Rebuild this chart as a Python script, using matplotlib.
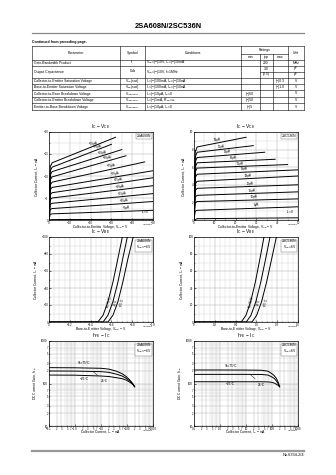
import matplotlib.pyplot as plt
import numpy as np
from matplotlib.ticker import AutoMinorLocator, FixedLocator, FixedFormatter

plt.rcParams["font.family"] = ["Liberation Sans", "DejaVu Sans"]
plt.rcParams["axes.linewidth"] = 0.5

# ---------------- table data ----------------
TABLE_PARAMS = [
    "Gain-Bandwidth Product",
    "Output Capacitance",
    "",
    "Collector-to-Emitter Saturation Voltage",
    "Base-to-Emitter Saturation Voltage",
    "Collector-to-Base Breakdown Voltage",
    "Collector-to-Emitter Breakdown Voltage",
    "Emitter-to-Base Breakdown Voltage",
]
TABLE_SYMBOLS = [
    r"f$\mathregular{_T}$", r"Cob", "",
    r"V$\mathregular{_{CE}}$(sat)", r"V$\mathregular{_{BE}}$(sat)",
    r"V$\mathregular{_{(BR)CBO}}$", r"V$\mathregular{_{(BR)CEO}}$", r"V$\mathregular{_{(BR)EBO}}$",
]
TABLE_CONDITIONS = [
    r"V$\mathregular{_{CE}}$=(−)10V, I$\mathregular{_C}$=(−)10mA",
    r"V$\mathregular{_{CB}}$=(−)10V, f=1MHz",
    "",
    r"I$\mathregular{_C}$=(−)100mA, I$\mathregular{_B}$=(−)10mA",
    r"I$\mathregular{_C}$=(−)100mA, I$\mathregular{_B}$=(−)10mA",
    r"I$\mathregular{_C}$=(−)10µA, I$\mathregular{_E}$=0",
    r"I$\mathregular{_C}$=(−)1mA, R$\mathregular{_{BE}}$=∞",
    r"I$\mathregular{_E}$=(−)10µA, I$\mathregular{_C}$=0",
]
TABLE_MIN = ["", "", "", "", "", "(−)60", "(−)50", "(−)5"]
TABLE_TYP = ["200", "3.0", "(2.5)", "", "", "", "", ""]
TABLE_MAX = ["", "", "", "(−)0.3", "(−)1.0", "", "", ""]
TABLE_UNIT = ["MHz", "pF", "pF", "V", "V", "V", "V", "V"]

# ---------------- IC - VCE ----------------
VCE_A_LABELS = ["−55µA", "−50µA", "−45µA", "−40µA", "−35µA", "−30µA",
                "−25µA", "−20µA", "−15µA", "−10µA", "−5µA"]
VCE_A_KNEE = [-13.0, -12.0, -11.0, -9.8, -8.6, -7.4, -6.2, -5.0, -3.8, -2.6, -1.4]
VCE_A_END_V = [-32, -30, -35, -37, -46, -50, -50, -50, -50, -50, -50]
VCE_A_END_I = [-18.8, -17.2, -16.0, -14.6, -13.2, -11.2, -9.6, -7.8, -6.0, -4.2, -2.2]
VCE_A_ZERO = [0, -0.1, -0.15]

VCE_C_LABELS = ["55µA", "50µA", "45µA", "40µA", "35µA", "30µA",
                "25µA", "20µA", "15µA", "10µA", "5µA"]
VCE_C_KNEE = [8.3, 7.7, 7.1, 6.5, 5.9, 5.2, 4.4, 3.6, 2.8, 2.1, 1.1]
VCE_C_END_V = [25, 28.5, 34, 39, 45, 50, 50, 50, 50, 50, 50]
VCE_C_END_I = [9.4, 8.45, 7.7, 6.9, 6.3, 5.7, 5.0, 4.0, 3.2, 2.4, 1.5]
VCE_C_ZERO = [0, 0.15, 0.25]

# ---------------- IC - VBE ----------------
VBE_A = {
    "75": ([0, -0.47, -0.52, -0.567, -0.615, -0.663, -0.705], [0, 0, -8, -24, -47, -75, -100]),
    "25": ([0, -0.52, -0.567, -0.615, -0.663, -0.71, -0.753], [0, 0, -8, -24, -47, -75, -100]),
    "-25": ([0, -0.567, -0.615, -0.663, -0.71, -0.76, -0.81], [0, 0, -8, -24, -47, -75, -100]),
}
VBE_C = {
    "75": ([0, 0.455, 0.50, 0.545, 0.59, 0.635, 0.673], [0, 0, 8, 24, 47, 75, 100]),
    "25": ([0, 0.503, 0.548, 0.595, 0.642, 0.69, 0.731], [0, 0, 8, 24, 47, 75, 100]),
    "-25": ([0, 0.558, 0.603, 0.65, 0.698, 0.748, 0.792], [0, 0, 8, 24, 47, 75, 100]),
}

# ---------------- hFE - IC ----------------
HFE_A_IC = [0.1, 1, 10, 20, 39, 65, 94, 120, 147, 175, 196]
HFE_A = {
    "75": [236, 234, 228, 218, 195, 170, 145, 126, 110, 95, 84],
    "25": [197, 196, 190, 183, 166, 150, 132, 118, 106, 94, 84],
    "-25": [158, 157, 150, 146, 137, 130, 120, 110, 101, 92, 84],
}
HFE_C_IC = [0.1, 1, 10, 39, 70, 94, 120, 147, 175, 196]
HFE_C = {
    "75": [208, 208, 207, 205, 195, 174, 155, 132, 105, 84],
    "25": [164, 164, 164, 163, 158, 145, 133, 115, 98, 84],
    "-25": [110, 110, 110, 110, 109, 107, 103, 96, 90, 84],
}

DECADE_LABELS_A = ["−0.1", "−1.0", "−10", "−100", "−1000"]
DECADE_LABELS_C = ["0.1", "1.0", "10", "100", "1000"]

TICK_FS = 2.1
LABEL_FS = 2.4
CURVE_LW = 0.7


def style_axes(ax, title, device, cond=None, code=""):
    ax.tick_params(which="both", direction="in", length=1.2, width=0.4,
                   labelsize=TICK_FS, pad=0.4)
    ax.tick_params(which="minor", length=0.6)
    ax.grid(True, which="major", color="#b0b0b0", lw=0.35)
    ax.grid(True, which="minor", color="#d0d0d0", lw=0.3)
    ax.set_axisbelow(True)
    ax.text(0.5, 1.008, title, transform=ax.transAxes, ha="center", va="bottom", fontsize=3.5)
    txt = device if cond is None else device + "\n" + cond
    ax.text(0.985, 0.975, txt, transform=ax.transAxes, ha="right", va="top", fontsize=2.4,
            linespacing=1.0,
            bbox=dict(boxstyle="square,pad=0.25", fc="white", ec="#666666", lw=0.3))
    ax.text(1.0, -0.045, code, transform=ax.transAxes, ha="right", va="top", fontsize=1.6)


def set_labels(ax, xlabel, ylabel):
    ax.set_xlabel(xlabel, fontsize=LABEL_FS)
    ax.set_ylabel(ylabel, fontsize=LABEL_FS, labelpad=1.5)
    ax.xaxis.set_label_coords(0.5, -0.037)


def vce_chart(ax, labels, knee, end_v, end_i, zero, sign, device, xticks, yticks, label_x, code):
    for lab, k, ev, ei, lx in zip(labels, knee, end_v, end_i, label_x):
        xs = [0, sign * 0.6, sign * 1.5, ev]
        ys = [0, k * 0.93, k, ei]
        ax.plot(xs, ys, color="black", lw=CURVE_LW)
        ly = np.interp(abs(lx), np.abs(xs), np.abs(ys)) * sign
        ax.annotate(lab, (lx, ly), xytext=(0, 0.6), textcoords="offset points",
                    fontsize=2.2, ha="center", va="bottom", rotation=6)
    ax.plot([0, sign * 1.5, sign * 50], zero, color="black", lw=CURVE_LW)
    ax.text(0.92, 0.045, r"I$\mathregular{_B}$=0", transform=ax.transAxes, fontsize=2.3,
            ha="center", va="bottom")
    ax.set_xlim(0, xticks[-1])
    ax.set_ylim(0, yticks[-1])
    ax.xaxis.set_major_locator(FixedLocator(xticks))
    ax.yaxis.set_major_locator(FixedLocator(yticks))
    ax.xaxis.set_minor_locator(AutoMinorLocator(2))
    ax.yaxis.set_minor_locator(AutoMinorLocator(2))
    style_axes(ax, r"I$\mathregular{_C}$ − V$\mathregular{_{CE}}$", device, code=code)
    set_labels(ax, r"Collector-to-Emitter Voltage, V$\mathregular{_{CE}}$ − V",
               r"Collector Current, I$\mathregular{_C}$ − mA")


def vbe_chart(ax, curves, sign, device, cond, yticks, code):
    for temp, (vx, iy) in curves.items():
        ax.plot(vx, iy, color="black", lw=CURVE_LW)
    names = {"75": "Ta=75°C", "25": "25°C", "-25": "−25°C"}
    offs = {"75": -0.035, "25": -0.02, "-25": -0.005}
    for temp, (vx, iy) in curves.items():
        ax.text(vx[4] + sign * offs[temp], iy[4] * 0.5, names[temp], fontsize=2.3,
                rotation=76, ha="center", va="center")
    ax.set_xlim(0, sign * 1.0)
    ax.set_ylim(0, yticks[-1])
    ax.xaxis.set_major_locator(FixedLocator([sign * v for v in [0, 0.2, 0.4, 0.6, 0.8, 1.0]]))
    ax.xaxis.set_major_formatter(FixedFormatter(
        ["0"] + [("−" if sign < 0 else "") + f"{v:.1f}" for v in [0.2, 0.4, 0.6, 0.8, 1.0]]))
    ax.yaxis.set_major_locator(FixedLocator(yticks))
    ax.xaxis.set_minor_locator(AutoMinorLocator(4))
    ax.yaxis.set_minor_locator(AutoMinorLocator(2))
    style_axes(ax, r"I$\mathregular{_C}$ − V$\mathregular{_{BE}}$", device, cond, code)
    set_labels(ax, r"Base-to-Emitter Voltage, V$\mathregular{_{BE}}$ − V",
               r"Collector Current, I$\mathregular{_C}$ − mA")


def hfe_chart(ax, ic, curves, decade_labels, device, cond, label_pos, code):
    for temp, h in curves.items():
        ax.plot(ic, h, color="black", lw=CURVE_LW)
    ax.set_xscale("log")
    ax.set_yscale("log")
    ax.set_xlim(0.1, 1000)
    ax.set_ylim(10, 1000)
    ax.xaxis.set_major_locator(FixedLocator([0.1, 1, 10, 100, 1000]))
    ax.xaxis.set_major_formatter(FixedFormatter(decade_labels))
    xmin = [m * d for d in [0.1, 1, 10, 100] for m in [2, 3, 5, 7]]
    ax.xaxis.set_minor_locator(FixedLocator(xmin))
    ax.xaxis.set_minor_formatter(FixedFormatter(["2", "3", "5", "7"] * 4))
    ax.yaxis.set_major_locator(FixedLocator([10, 100, 1000]))
    ax.yaxis.set_major_formatter(FixedFormatter(["10", "100", "1000"]))
    ymin = [m * d for d in [10, 100] for m in [2, 3, 5, 7]]
    ax.yaxis.set_minor_locator(FixedLocator(ymin))
    ax.yaxis.set_minor_formatter(FixedFormatter(["2", "3", "5", "7"] * 2))
    style_axes(ax, r"h$\mathregular{_{FE}}$ − I$\mathregular{_C}$", device, cond, code)
    ax.tick_params(which="minor", labelsize=1.9, pad=0.4)
    ax.tick_params(axis="y", which="major", pad=1.0)
    # fine log grid
    gx = [m * d for d in [0.1, 1, 10, 100] for m in range(2, 10)]
    gy = [m * d for d in [10, 100] for m in range(2, 10)]
    for g in gx:
        ax.axvline(g, color="#d0d0d0", lw=0.3, zorder=0)
    for g in gy:
        ax.axhline(g, color="#d0d0d0", lw=0.3, zorder=0)
    for name, (x, y), (tx, ty) in label_pos:
        if tx is None:
            ax.text(x, y, name, fontsize=2.3, ha="center", va="center")
        else:
            ax.annotate(name, (tx, ty), xytext=(x, y), fontsize=2.3, ha="center", va="center",
                        arrowprops=dict(arrowstyle="-", lw=0.3, color="black", shrinkA=1, shrinkB=0))
    set_labels(ax, r"Collector Current, I$\mathregular{_C}$ − mA",
               r"DC Current Gain, h$\mathregular{_{FE}}$")


fig = plt.figure(figsize=(3.36, 4.75), dpi=100)

# ---------------- page, header and table ----------------
page = fig.add_axes([0, 0, 1, 1])
page.set_xlim(0, 336)
page.set_ylim(475, 0)
page.axis("off")

page.text(168, 27, "2SA608N/2SC536N", ha="center", va="center", fontsize=5.4, fontweight="bold")
page.plot([32, 304], [32.5, 32.5], color="#888888", lw=0.9)
page.text(32, 42, "Continued from preceding page.", fontsize=2.5, fontweight="bold", va="center")

col_x = [32, 120, 145, 240.7, 259.5, 272.7, 288.3, 304]
row_y = [59.5, 65.5, 71.5, 77.5, 84, 90.3, 96.7, 103.3, 110]
tlw = 0.4
page.plot([32, 304], [46, 46], color="black", lw=tlw)
page.plot([col_x[3], col_x[6]], [54, 54], color="black", lw=tlw)
for i, y in enumerate(row_y):
    if i == 2:
        page.plot([col_x[4], 304], [y, y], color="black", lw=tlw)
    else:
        page.plot([32, 304], [y, y], color="black", lw=tlw)
for j, x in enumerate(col_x):
    top = 54 if j in (4, 5) else 46
    page.plot([x, x], [top, 110], color="black", lw=tlw)

hfs = 2.5
page.text((col_x[0] + col_x[1]) / 2, 52.7, "Parameter", ha="center", va="center", fontsize=hfs)
page.text((col_x[1] + col_x[2]) / 2, 52.7, "Symbol", ha="center", va="center", fontsize=hfs)
page.text((col_x[2] + col_x[3]) / 2, 52.7, "Conditions", ha="center", va="center", fontsize=hfs)
page.text((col_x[3] + col_x[6]) / 2, 50, "Ratings", ha="center", va="center", fontsize=hfs)
for j, t in zip((3, 4, 5), ("min", "typ", "max")):
    page.text((col_x[j] + col_x[j + 1]) / 2, 56.8, t, ha="center", va="center", fontsize=hfs)
page.text((col_x[6] + col_x[7]) / 2, 52.7, "Unit", ha="center", va="center", fontsize=hfs)

for i in range(len(TABLE_PARAMS)):
    yc = (row_y[i] + row_y[i + 1]) / 2
    if i == 1:
        yc_txt = (row_y[1] + row_y[3]) / 2
    else:
        yc_txt = yc
    if TABLE_PARAMS[i]:
        page.text(33.5, yc_txt, TABLE_PARAMS[i], va="center", fontsize=2.4)
        page.text((col_x[1] + col_x[2]) / 2, yc_txt, TABLE_SYMBOLS[i], ha="center", va="center", fontsize=2.4)
        page.text(146.5, yc_txt, TABLE_CONDITIONS[i], va="center", fontsize=2.4)
    for j, vals in zip((3, 4, 5, 6), (TABLE_MIN, TABLE_TYP, TABLE_MAX, TABLE_UNIT)):
        page.text((col_x[j] + col_x[j + 1]) / 2, yc, vals[i], ha="center", va="center", fontsize=2.4)

# footer
page.plot([32, 304], [451, 451], color="#999999", lw=1.6)
page.text(304, 455.5, "No.6334-2/4", ha="right", va="center", fontsize=2.8)

# ---------------- charts ----------------
W = 104 / 336
H1 = 88 / 475
H2 = 85 / 475
LX, RX = 49 / 336, 194 / 336
B1 = 1 - 220 / 475
B2 = 1 - 322 / 475
B3 = 1 - 426 / 475

ax1 = fig.add_axes([LX, B1, W, H1])
vce_chart(ax1, VCE_A_LABELS, VCE_A_KNEE, VCE_A_END_V, VCE_A_END_I, VCE_A_ZERO, -1, "2SA608N",
          [0, -10, -20, -30, -40, -50], [0, -5, -10, -15, -20],
          [-21, -23, -25.5, -28, -30, -31.5, -33, -34, -35, -36, -37], "ITR04650")
ax2 = fig.add_axes([RX, B1, W, H1])
vce_chart(ax2, VCE_C_LABELS, VCE_C_KNEE, VCE_C_END_V, VCE_C_END_I, VCE_C_ZERO, 1, "2SC536N",
          [0, 10, 20, 30, 40, 50], [0, 2, 4, 6, 8, 10],
          [11, 13, 16, 19, 22, 24, 26, 27, 28, 29, 30], "ITR04651")

ax3 = fig.add_axes([LX, B2, W, H2])
vbe_chart(ax3, VBE_A, -1, "2SA608N", r"V$\mathregular{_{CE}}$=−6V", [0, -20, -40, -60, -80, -100],
          "ITR04652")
ax4 = fig.add_axes([RX, B2, W, H2])
vbe_chart(ax4, VBE_C, 1, "2SC536N", r"V$\mathregular{_{CE}}$=6V", [0, 20, 40, 60, 80, 100],
          "ITR04653")

ax5 = fig.add_axes([LX, B3, W, H2])
hfe_chart(ax5, HFE_A_IC, HFE_A, DECADE_LABELS_A, "2SA608N", r"V$\mathregular{_{CE}}$=−6V",
          [("Ta=75°C", (2.2, 300), (None, None)),
           ("−25°C", (2.2, 128), (None, None)),
           ("25°C", (14, 112), (5, 190))], "ITR04654")
ax6 = fig.add_axes([RX, B3, W, H2])
hfe_chart(ax6, HFE_C_IC, HFE_C, DECADE_LABELS_C, "2SC536N", r"V$\mathregular{_{CE}}$=6V",
          [("Ta=75°C", (2.6, 262), (None, None)),
           ("−25°C", (2.6, 96), (None, None)),
           ("25°C", (40, 94), (15, 160))], "ITR04655")

fig.savefig("out.png", dpi=100)
